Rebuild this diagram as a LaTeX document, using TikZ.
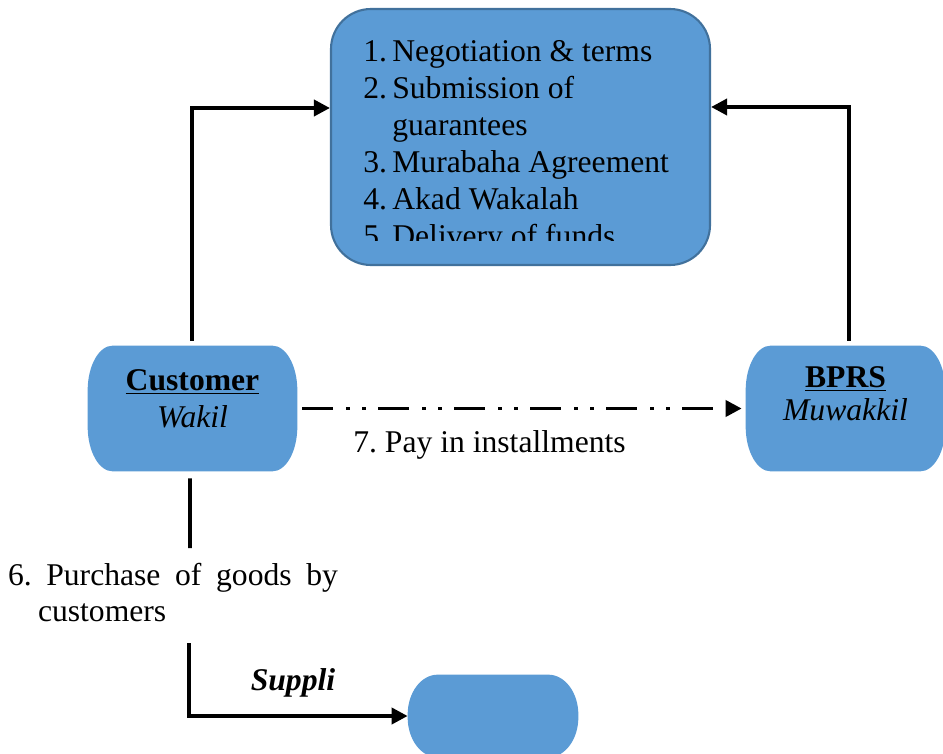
\documentclass[tikz,border=0pt]{standalone}
\usepackage{fontspec}
\setmainfont{Liberation Serif}
\usetikzlibrary{arrows.meta}
\definecolor{FlowBlue}{HTML}{5B9BD5}
\definecolor{FlowEdge}{HTML}{41719C}
\frenchspacing
% oval fill behind an empty node: name, x radius, y radius
\newcommand\ovalfill[3]{\fill[FlowBlue] ([xshift=#2]#1.north west) -- ([xshift=-#2]#1.north east)
  arc[start angle=90,end angle=0,x radius=#2,y radius=#3] -- ([yshift=#3]#1.south east)
  arc[start angle=0,end angle=-90,x radius=#2,y radius=#3] -- ([xshift=#2]#1.south west)
  arc[start angle=270,end angle=180,x radius=#2,y radius=#3] -- ([yshift=-#3]#1.north west)
  arc[start angle=180,end angle=90,x radius=#2,y radius=#3] -- cycle;}

\begin{document}
\begin{tikzpicture}[x=1cm,y=1cm,
  font=\fontsize{18}{21}\selectfont,
  stepbox/.style={fill=FlowBlue,draw=FlowEdge,line width=1.2pt,rounded corners=0.8cm,minimum width=7.58cm,minimum height=5.12cm},
  partybox/.style={inner sep=0,minimum width=4.18cm,minimum height=2.5cm},
  flow/.style={line width=2.1pt,-{Triangle[length=0.32cm,width=0.32cm]}},
  plain/.style={line width=2.1pt}]
\path[use as bounding box] (0,0) rectangle (18.86,15.06);
% boxes
\node[stepbox] (topbox) at (10.41,12.32) {};
\begin{scope}
\clip (6.62,10.24) rectangle (14.20,14.88);
\node[anchor=base west,inner sep=0] (steps) at (7.26,13.82) {\begin{tabular}[t]{@{}p{0.58cm}@{}l@{}}
1.& Negotiation \& terms\\
2.& Submission of\\
  & guarantees\\
3.& Murabaha Agreement\\
4.& Akad Wakalah\\
5.& Delivery of funds
\end{tabular}};
\end{scope}
\node[partybox] (cust) at (3.85,6.89) {};
\ovalfill{cust}{0.5cm}{0.9cm}
\node[align=center] (custtxt) at (3.85,7.08) {\underline{\textbf{Customer}}\\ \textit{Wakil}};
\node[partybox,minimum width=3.98cm] (bprs) at (16.91,6.89) {};
\ovalfill{bprs}{0.5cm}{0.9cm}
\node[align=center] (bprstxt) at (16.91,7.19) {\underline{\textbf{BPRS}}\\[-2pt] \textit{Muwakkil}};
\node[partybox,minimum width=3.40cm,minimum height=1.64cm] (supp) at (9.86,0.74) {};
\ovalfill{supp}{0.6cm}{0.8cm}
% labels
\node (paylbl) at (9.79,6.16) {7. Pay in installments};
\node[text width=6.6cm,align=justify,inner sep=0] (purchlbl) at (3.46,3.21) {6. Purchase of goods by\linebreak\hspace*{0.6cm}customers};
\node[font=\fontsize{18}{21}\selectfont\bfseries\itshape] (supplbl) at (5.86,1.40) {Suppli};
% connectors
\coordinate (gapA) at (3.80,4.10);
\coordinate (gapB) at (3.78,2.20);
\draw[flow] ([xshift=-0.01cm,yshift=0.1cm]cust.north) |- ([yshift=0.58cm]topbox.west);
\draw[flow] ([xshift=0.07cm,yshift=0.1cm]bprs.north) |- ([yshift=0.6cm]topbox.east);
\draw[flow,dash pattern=on 0.62cm off 0.26cm on 0.08cm off 0.24cm on 0.08cm off 0.24cm] ([xshift=0.1cm]cust.east) -- ([xshift=-0.08cm]bprs.west);
\draw[plain] ([xshift=-0.05cm,yshift=-0.14cm]cust.south) -- (gapA);
\draw[flow] (gapB) |- (supp.west);
\end{tikzpicture}
\end{document}
